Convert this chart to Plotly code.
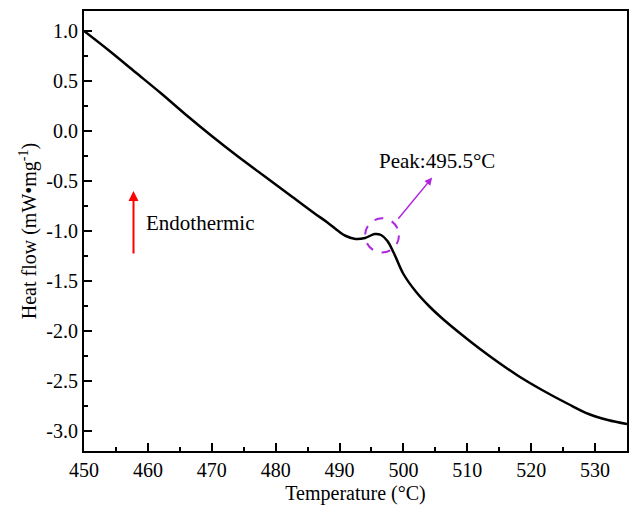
import plotly.graph_objects as go

# Data
temperature = [450, 454, 458, 462, 466, 470, 474, 478, 482, 486, 488, 490, 491,
               492.5, 494, 495.5, 496.5, 497.5, 498.5, 500, 502, 504, 506, 509,
               512, 515, 518, 521.7, 525.8, 529, 532, 535]
heat_flow = [1.00, 0.80, 0.59, 0.38, 0.16, -0.05, -0.25, -0.44, -0.63, -0.82, -0.91,
             -1.01, -1.05, -1.08, -1.07, -1.03, -1.04, -1.10, -1.22, -1.43, -1.61,
             -1.75, -1.87, -2.03, -2.18, -2.32, -2.45, -2.59, -2.73, -2.83, -2.89, -2.93]

x_ticks = [450, 460, 470, 480, 490, 500, 510, 520, 530]
x_ticktext = ["450", "460", "470", "480", "490", "500", "510", "520", "530"]
y_ticks = [1.0, 0.5, 0.0, -0.5, -1.0, -1.5, -2.0, -2.5, -3.0]
y_ticktext = ["1.0", "0.5", "0.0", "-0.5", "-1.0", "-1.5", "-2.0", "-2.5", "-3.0"]

peak_label = "Peak:495.5°C"
endo_label = "Endothermic"

PURPLE = "#b026e0"
FONT = "Liberation Serif"

fig = go.Figure()
fig.add_trace(go.Scatter(x=temperature, y=heat_flow, mode="lines",
                         line=dict(color="black", width=2.5, shape="spline", smoothing=1.0),
                         showlegend=False))

# dashed circle around the peak
fig.add_shape(type="circle", xref="x", yref="y", x0=494.0, x1=499.3, y0=-1.215, y1=-0.873,
              line=dict(color=PURPLE, width=2, dash="dash"))

# purple arrow
fig.add_annotation(x=504.5, y=-0.466, ax=499.0, ay=-0.893, xref="x", yref="y",
                   axref="x", ayref="y", showarrow=True, arrowhead=2, arrowsize=1,
                   arrowwidth=1.5, arrowcolor=PURPLE, text="")
fig.add_annotation(x=505.3, y=-0.30, text=peak_label, showarrow=False,
                   font=dict(family=FONT, size=21, color="black"))

# red endothermic arrow
fig.add_annotation(x=457.75, y=-0.60, ax=457.75, ay=-1.24, xref="x", yref="y",
                   axref="x", ayref="y", showarrow=True, arrowhead=2, arrowsize=1,
                   arrowwidth=2, arrowcolor="red", text="")
fig.add_annotation(x=468.15, y=-0.92, text=endo_label, showarrow=False,
                   font=dict(family=FONT, size=21, color="black"))

fig.update_layout(
    width=630, height=507,
    margin=dict(l=84, r=1, t=11, b=56),
    paper_bgcolor="white", plot_bgcolor="white",
    font=dict(family=FONT, size=20, color="black"),
    xaxis=dict(range=[450, 535], tickmode="array", tickvals=x_ticks, ticktext=x_ticktext,
               ticks="inside", ticklen=8, tickwidth=2, tickcolor="black",
               minor=dict(ticks="inside", ticklen=4, tickwidth=2, dtick=5, tick0=450, tickcolor="black"),
               showline=True, linecolor="black", linewidth=2, mirror=True,
               showgrid=False, zeroline=False,
               title=dict(text="Temperature (°C)", standoff=6, font=dict(size=20))),
    yaxis=dict(range=[-3.2, 1.2], tickmode="array", tickvals=y_ticks, ticktext=y_ticktext,
               ticks="inside", ticklen=8, tickwidth=2, tickcolor="black",
               minor=dict(ticks="inside", ticklen=4, tickwidth=2, dtick=0.25, tick0=0, tickcolor="black"),
               showline=True, linecolor="black", linewidth=2, mirror=True,
               showgrid=False, zeroline=False,
               title=dict(text="Heat flow (mW•mg<sup>-1</sup>)", standoff=4, font=dict(size=20))),
)

fig.write_html("out.html")
